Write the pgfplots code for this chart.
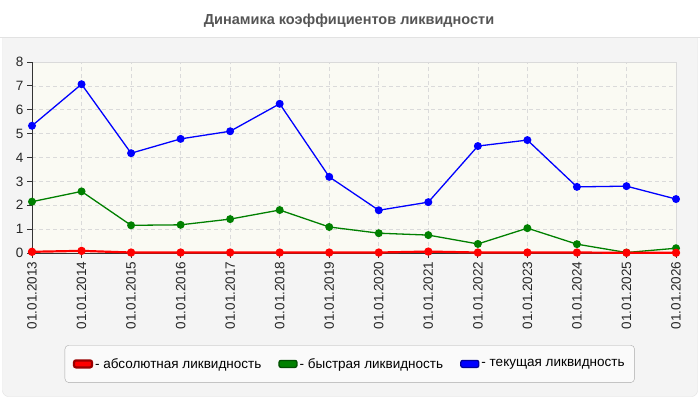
\documentclass[border=0pt]{standalone}
\usepackage{pgfplots}
\pgfplotsset{compat=1.18}
\usepackage{fontspec}
\setmainfont{Liberation Sans}

\definecolor{panel}{HTML}{F4F4F4}
\definecolor{panelline}{HTML}{E2E2E2}
\definecolor{plotbg}{HTML}{FAFAF3}
\definecolor{gridc}{HTML}{DADADA}
\definecolor{titlec}{HTML}{555555}
\definecolor{legbg}{HTML}{FAFAFA}
\definecolor{legline}{HTML}{AAAAAA}
\definecolor{cred}{HTML}{FF0000}
\definecolor{cgreen}{HTML}{008000}
\definecolor{cblue}{HTML}{0000FF}

\begin{document}
\begin{tikzpicture}[x=1pt,y=1pt]
\useasboundingbox (0,0) rectangle (700,400);
\fill[white] (0,0) rectangle (700,400);
\draw[panelline, fill=panel, rounded corners=6pt] (2.5,3.5) rectangle (697.5,370);
\fill[white] (0,363) rectangle (700,400);
\draw[panelline] (0,362.7) -- (700,362.7);
\node[font=\fontsize{14.5}{16}\selectfont\bfseries, text=titlec] at (349,379) {Динамика коэффициентов ликвидности};

\begin{axis}[
    at={(32pt,147pt)}, anchor=south west,
    scale only axis,
    width=644pt, height=191pt,
    xmin=0, xmax=13, ymin=0, ymax=8,
    xtick={0,...,13},
    xticklabels={01.01.2013,01.01.2014,01.01.2015,01.01.2016,01.01.2017,01.01.2018,01.01.2019,
                 01.01.2020,01.01.2021,01.01.2022,01.01.2023,01.01.2024,01.01.2025,01.01.2026},
    ytick={0,...,8},
    axis x line*=bottom, axis y line*=left,
    axis line style={black!80, line width=0.8pt},
    tick align=outside,
    major tick length=5pt,
    tick style={black!80, line width=0.8pt},
    x tick label style={rotate=90, anchor=east},
    tick label style={font=\fontsize{13.5}{15}\selectfont, text=black!85},
    /pgf/number format/assume math mode=true,
    grid=major,
    major grid style={gridc, dash pattern=on 4pt off 3pt, line width=0.7pt},
    axis background/.style={fill=plotbg, draw=gridc},
    clip=false,
    reverse legend,
    legend columns=3,
    legend style={
        at={(0.4934,-0.4817)}, anchor=north,
        draw=legline, fill=legbg, rounded corners=4pt,
        font=\fontsize{13.5}{15}\selectfont,
        inner xsep=8pt, inner ysep=12pt,
        nodes={inner xsep=2pt, inner ysep=1pt},
        /tikz/every even column/.append style={column sep=15pt},
    },
]
\addplot[cblue, line width=1.3pt, mark=*, mark size=3.3pt,
    legend image code/.code={\draw[fill=cblue, draw=cblue!60!black, rounded corners=2pt] (0pt,-3.5pt) rectangle (18pt,3.5pt);}]
coordinates {
    (0,5.33) (1,7.07) (2,4.18) (3,4.78) (4,5.10) (5,6.25) (6,3.19)
    (7,1.79) (8,2.13) (9,4.48) (10,4.73) (11,2.77) (12,2.80) (13,2.26)
};
\addlegendentry{- текущая ликвидность}

\addplot[cgreen, line width=1.3pt, mark=*, mark size=3.3pt,
    legend image code/.code={\draw[fill=cgreen, draw=cgreen!60!black, rounded corners=2pt] (0pt,-3.5pt) rectangle (18pt,3.5pt);}]
coordinates {
    (0,2.15) (1,2.58) (2,1.16) (3,1.18) (4,1.42) (5,1.80) (6,1.09)
    (7,0.83) (8,0.75) (9,0.38) (10,1.04) (11,0.37) (12,0.02) (13,0.20)
};
\addlegendentry{- быстрая ликвидность}

\addplot[cred, line width=2.2pt, mark=*, mark size=3pt,
    legend image code/.code={\draw[fill=cred, draw=cred!60!black, rounded corners=2pt] (0pt,-3.5pt) rectangle (18pt,3.5pt);}]
coordinates {
    (0,0.05) (1,0.09) (2,0.02) (3,0.02) (4,0.02) (5,0.02) (6,0.02)
    (7,0.02) (8,0.06) (9,0.02) (10,0.02) (11,0.02) (12,0.01) (13,0.01)
};
\addlegendentry{- абсолютная ликвидность}
\end{axis}
\end{tikzpicture}
\end{document}
